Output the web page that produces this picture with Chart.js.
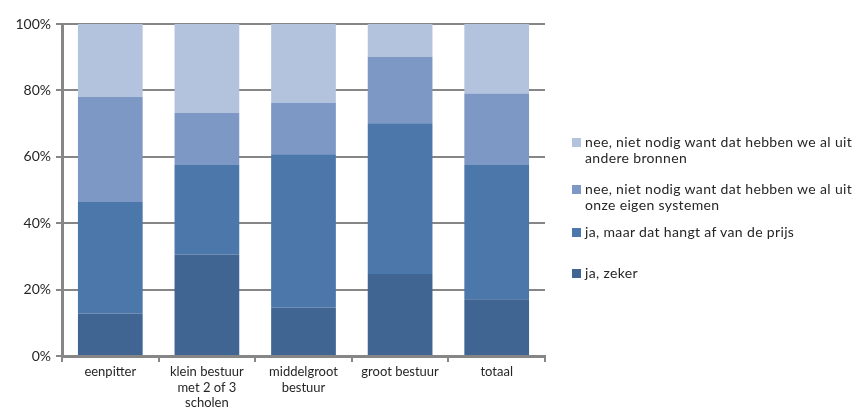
<!DOCTYPE html>
<html><head><meta charset="utf-8">
<script src="https://cdn.jsdelivr.net/npm/chart.js@4"></script>
<style>
html,body{margin:0;padding:0;background:#fff;}
#wrap{position:relative;width:862px;height:418px;}
#legend{position:absolute;left:572px;top:134px;width:290px;font-family:Lato,"Open Sans",sans-serif;font-size:14px;letter-spacing:0.35px;color:#262626;line-height:16px;}
.item{position:absolute;left:0;display:flex;align-items:flex-start;}
.box{width:9px;height:9px;margin-top:4px;margin-right:4px;flex:none;}
</style></head>
<body><div id="wrap"><canvas id="c" width="862" height="418"></canvas><div id="legend"></div></div>
<script>
const categories = ["eenpitter", ["klein bestuur","met 2 of 3","scholen"], ["middelgroot","bestuur"], "groot bestuur", "totaal"];
const seriesNames = ["ja, zeker", "ja, maar dat hangt af van de prijs", "nee, niet nodig want dat hebben we al uit onze eigen systemen", "nee, niet nodig want dat hebben we al uit andere bronnen"];
const jaZeker = [12.8, 30.6, 14.6, 24.7, 17.1];
const jaMaarPrijs = [33.6, 26.9, 46.2, 45.4, 40.4];
const neeEigenSystemen = [31.6, 15.8, 15.4, 20.0, 21.6];
const neeAndereBronnen = [22.0, 26.7, 23.8, 9.9, 20.9];
const yTicks = [0, 20, 40, 60, 80, 100];
const colors = ["#406592", "#4b77ab", "#7d98c5", "#b4c3dd"];
const legendLines = [["ja, zeker"],["ja, maar dat hangt af van de prijs"],["nee, niet nodig want dat hebben we al uit","onze eigen systemen"],["nee, niet nodig want dat hebben we al uit","andere bronnen"]];
const legendTops = [131, 90, 47, 0];

const values = [jaZeker, jaMaarPrijs, neeEigenSystemen, neeAndereBronnen];
const datasets = values.map((d,i)=>({label: seriesNames[i], data: d, backgroundColor: colors[i], borderWidth: 0, categoryPercentage: 0.67, barPercentage: 1}));

const font = {family: 'Lato, "Open Sans", sans-serif', size: 13};
const yfont = {family: 'Lato, "Open Sans", sans-serif', size: 14};
new Chart(document.getElementById('c'), {
  type: 'bar',
  data: {labels: categories, datasets},
  options: {
    responsive: false, animation: false,
    layout: {padding: {left: 0, top: 24, right: 317, bottom: 0}},
    plugins: {legend: {display: false}, tooltip: {enabled: false}},
    scales: {
      x: {stacked: true,
        grid: {drawOnChartArea: false, drawTicks: true, tickLength: 6, offset: true, color: '#868686', lineWidth: 2},
        border: {color: '#868686', width: 3},
        ticks: {font, color: '#262626', maxRotation: 0, autoSkip: false, padding: 2},
        afterFit: s => { s.height = 62; }
      },
      y: {stacked: true, min: 0, max: 100,
        afterBuildTicks: s => { s.ticks = yTicks.map(v=>({value:v})); },
        grid: {color: '#868686', lineWidth: 2, tickLength: 6, drawTicks: true},
        border: {color: '#868686', width: 3},
        ticks: {font: yfont, color: '#262626', padding: 5, callback: v => v + '%'},
        afterFit: s => { s.width = 62; }
      }
    }
  }
});

const lg = document.getElementById('legend');
for (let i = 3; i >= 0; i--) {
  const it = document.createElement('div');
  it.className = 'item';
  it.style.top = legendTops[i] + 'px';
  const b = document.createElement('div'); b.className = 'box'; b.style.background = colors[i];
  const t = document.createElement('div'); t.innerHTML = legendLines[i].join('<br>');
  it.appendChild(b); it.appendChild(t); lg.appendChild(it);
}
</script></body></html>
